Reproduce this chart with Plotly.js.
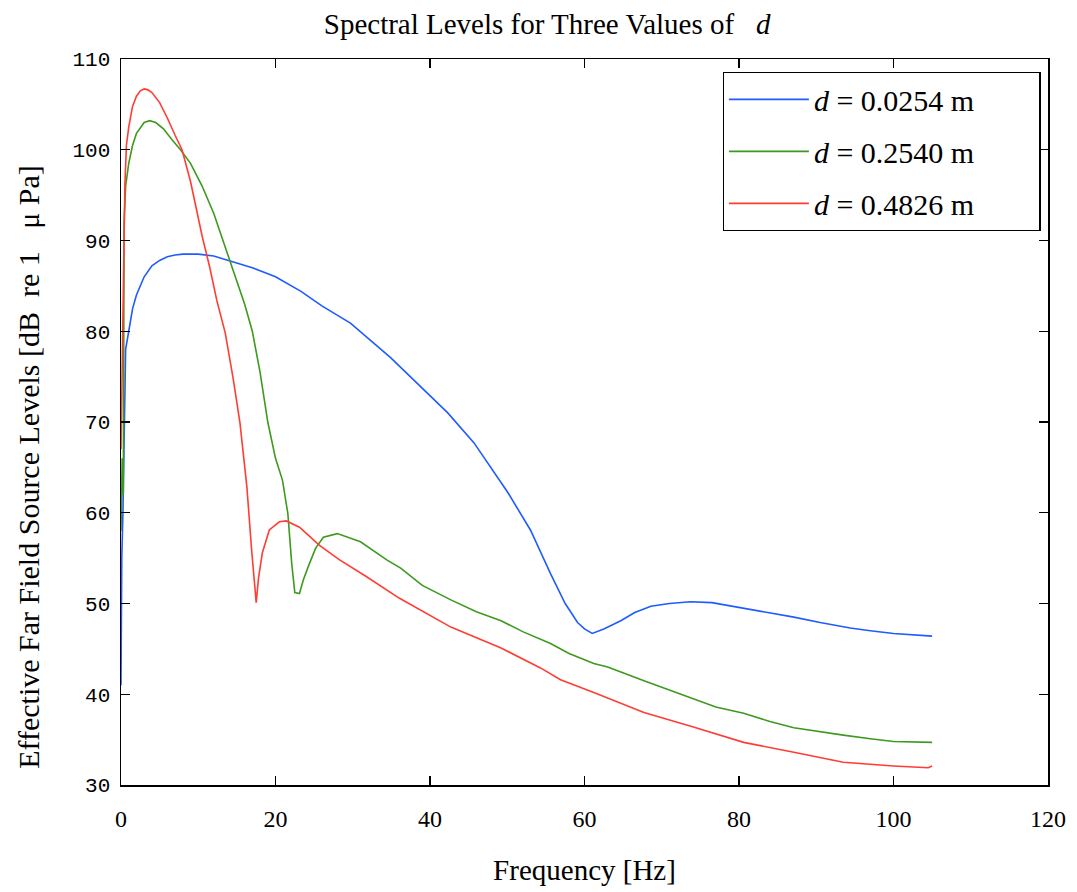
<!DOCTYPE html>
<html>
<head>
<meta charset="utf-8">
<script src="https://cdn.plot.ly/plotly-3.0.1.min.js"></script>
<style>html,body{margin:0;padding:0;background:#fff;}#chart{width:1077px;height:892px;}</style>
</head>
<body>
<div id="chart"></div>
<script>
// d = 0.0254 m
const blueX = [0, 0.1, 0.25, 0.4, 0.6, 1.0, 1.5, 2, 3, 4, 5, 6, 7, 8, 10, 12, 14, 17, 20, 23.3, 26, 29.7, 34.9, 38, 42.3, 45.7, 48.3, 50.1, 53, 55.6, 57.5, 59.1, 60, 61, 62.5, 64.7, 66.5, 68.6, 71, 73.7, 76.5, 79.8, 83.5, 87.1, 90.5, 94.4, 97, 100, 105];
const blueY = [41, 55, 60, 68, 78, 80, 82.5, 84, 86, 87.2, 87.8, 88.2, 88.4, 88.5, 88.5, 88.3, 87.8, 87.0, 86.0, 84.4, 82.8, 80.9, 77.1, 74.5, 71.0, 67.7, 64.4, 62.2, 58.1, 53.3, 50.0, 47.9, 47.2, 46.7, 47.2, 48.1, 49.0, 49.7, 50.0, 50.2, 50.1, 49.6, 49.0, 48.5, 47.9, 47.3, 47.0, 46.7, 46.4];
// d = 0.2540 m
const greenX = [0, 0.15, 0.3, 0.4, 0.6, 1, 1.5, 2, 3, 3.7, 4.5, 5.5, 6.5, 7.7, 9, 10.5, 12, 13, 14.5, 16, 17, 18, 19, 20, 20.9, 21.6, 22.1, 22.5, 23.1, 23.6, 24.3, 25.2, 26.2, 28, 31, 34.4, 36.2, 39, 42.7, 46, 49.2, 52, 55.6, 58, 61.2, 63, 67.7, 71, 74.1, 77, 80.6, 84, 87.1, 90, 93.5, 97, 100, 105];
const greenY = [58, 66, 62, 92, 96, 98.5, 100.5, 101.8, 103, 103.2, 103, 102.3, 101.2, 100, 98.5, 96, 93, 90.5, 87, 83, 80, 75.5, 70, 66, 63.6, 59.9, 54.4, 51.2, 51.1, 52.6, 54.2, 56.1, 57.3, 57.7, 56.8, 54.8, 53.9, 52.0, 50.4, 49.1, 48.1, 46.9, 45.6, 44.5, 43.4, 43.0, 41.5, 40.5, 39.5, 38.6, 37.9, 37.0, 36.3, 35.9, 35.5, 35.1, 34.8, 34.7];
// d = 0.4826 m
const redX = [0, 0.15, 0.3, 0.5, 0.7, 1, 1.5, 2, 2.5, 3, 3.5, 4, 5, 6, 7, 7.9, 9, 10.5, 11.5, 12.4, 13.5, 14.5, 15.4, 16.3, 16.9, 17.3, 17.5, 17.8, 18.3, 19.2, 20.5, 21.4, 23.1, 25.7, 28.3, 31.7, 36.0, 42.7, 49.2, 54.3, 56.9, 61.2, 67.7, 74.1, 80.6, 87.1, 93.5, 100, 104.5, 105];
const redY = [67, 75, 84, 96, 100.5, 102.5, 104.8, 105.9, 106.5, 106.7, 106.6, 106.3, 105.2, 103.5, 101.6, 100, 96.5, 90.5, 87, 83.4, 79.8, 74.9, 69.9, 62.8, 56, 51.5, 50.1, 52.8, 55.6, 58.1, 59.0, 59.1, 58.4, 56.4, 54.8, 53.0, 50.6, 47.4, 45.1, 42.9, 41.6, 40.2, 38.0, 36.4, 34.7, 33.6, 32.5, 32.1, 31.9, 32.1];

const seriesNames = ['<i>d</i> = 0.0254 m', '<i>d</i> = 0.2540 m', '<i>d</i> = 0.4826 m'];
const xTicks = [0, 20, 40, 60, 80, 100, 120];
const yTicks = [30, 40, 50, 60, 70, 80, 90, 100, 110];

const fontSerif = 'Liberation Serif, DejaVu Serif, serif';
const fontMono = 'Liberation Mono, DejaVu Sans Mono, monospace';
const pad = '&nbsp;'.repeat(8);

const traces = [
  {x: blueX, y: blueY, name: seriesNames[0] + pad, legendgroup: 'a', mode: 'lines', line: {color: '#1f5cff', width: 1.6}},
  {x: greenX, y: greenY, name: seriesNames[1] + pad, legendgroup: 'b', mode: 'lines', line: {color: '#3d9a1e', width: 1.6}},
  {x: redX, y: redY, name: seriesNames[2] + pad, legendgroup: 'c', mode: 'lines', line: {color: '#ff3d33', width: 1.6}}
];

const axisCommon = {
  showgrid: false, zeroline: false, showline: true, mirror: 'ticks',
  linecolor: '#000', linewidth: 1.5, ticks: 'inside', ticklen: 9, tickwidth: 1.3, tickcolor: '#000'
};

const layout = {
  width: 1077, height: 892,
  margin: {l: 121, r: 29, t: 59, b: 107},
  paper_bgcolor: '#fff', plot_bgcolor: '#fff',
  title: {text: 'Spectral Levels for Three Values of &nbsp;&nbsp;<i>d</i>', x: 0.508, xanchor: 'center', y: 0.973, yanchor: 'middle',
          font: {family: fontSerif, size: 29, color: '#000'}},
  xaxis: Object.assign({}, axisCommon, {range: [0, 120], tickvals: xTicks, ticktext: xTicks.map(String),
          tickfont: {family: fontSerif, size: 24, color: '#000'}, ticklabelstandoff: 12,
          title: {text: 'Frequency [Hz]', font: {family: fontSerif, size: 29, color: '#000'}, standoff: 28}}),
  yaxis: Object.assign({}, axisCommon, {range: [30, 110], tickvals: yTicks, ticktext: yTicks.map(String),
          tickfont: {family: fontMono, size: 21, color: '#000'}, ticklabelstandoff: 5,
          title: {text: 'Effective Far Field Source Levels [dB &nbsp;re 1 &nbsp;&nbsp;μ Pa]' + '&nbsp;'.repeat(12), font: {family: fontSerif, size: 30, color: '#000'}, standoff: 24}}),
  legend: {x: 0.992, xanchor: 'right', y: 0.982, yanchor: 'top', bgcolor: '#fff', bordercolor: '#000', borderwidth: 1.3,
           font: {family: fontSerif, size: 30, color: '#000'}, itemwidth: 80, tracegroupgap: 10},
  showlegend: true
};

Plotly.newPlot('chart', traces, layout, {displayModeBar: false, staticPlot: true});
</script>
</body>
</html>
